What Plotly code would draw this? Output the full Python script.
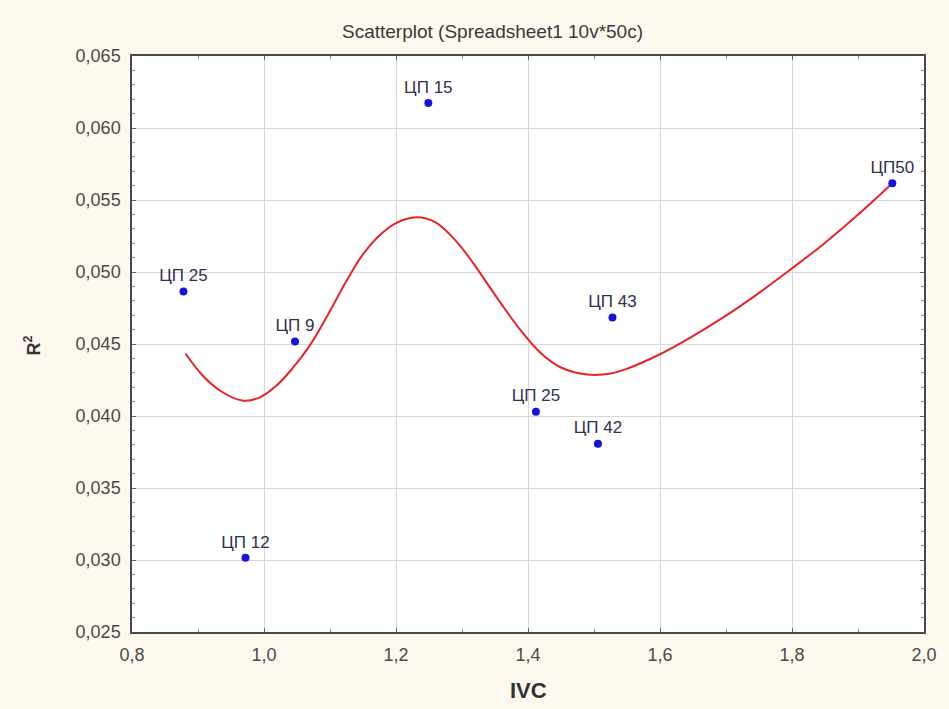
import plotly.graph_objects as go

# Scatter points (IVC, R^2) with labels
labels = ["ЦП 25", "ЦП 9", "ЦП 12", "ЦП 15", "ЦП 25", "ЦП 42", "ЦП 43", "ЦП50"]
ivc = [0.878, 1.047, 0.972, 1.249, 1.412, 1.506, 1.528, 1.952]
r2 = [0.04865, 0.04517, 0.03015, 0.06173, 0.0403, 0.03808, 0.04684, 0.05617]

# Fitted smooth curve
curve_x = [0.881, 0.907, 0.933, 0.967, 0.993, 1.019, 1.043, 1.068, 1.094, 1.124,
           1.148, 1.174, 1.200, 1.231, 1.260, 1.290, 1.314, 1.335, 1.359, 1.389,
           1.420, 1.450, 1.490, 1.525, 1.551, 1.596, 1.646, 1.697, 1.747, 1.797,
           1.848, 1.898, 1.952]
curve_y = [0.04434, 0.04281, 0.04177, 0.04107, 0.04128, 0.04211, 0.04330, 0.04480,
           0.04680, 0.04930, 0.05110, 0.05250, 0.05340, 0.05380, 0.05345, 0.05220,
           0.05081, 0.04942, 0.04782, 0.04594, 0.04434, 0.04337, 0.04288, 0.04295,
           0.04330, 0.04420, 0.04545, 0.04688, 0.04845, 0.05015, 0.05195, 0.05390,
           0.05617]

x_ticks = [0.8, 1.0, 1.2, 1.4, 1.6, 1.8, 2.0]
y_ticks = [0.025, 0.030, 0.035, 0.040, 0.045, 0.050, 0.055, 0.060, 0.065]

title_text = "Scatterplot (Spreadsheet1 10v*50c)"
x_title = "IVC"
y_title = "R<sup>2</sup>"

FONT = "Arial, Liberation Sans, sans-serif"

fig = go.Figure()
fig.add_trace(go.Scatter(
    x=curve_x, y=curve_y, mode="lines", line=dict(color="#e8232a", width=2, shape="spline"),
    hoverinfo="skip", showlegend=False))
fig.add_trace(go.Scatter(
    x=ivc, y=r2, mode="markers+text", text=labels, textposition="top center",
    textfont=dict(family=FONT, size=17, color="#2f2f4f"),
    marker=dict(color="#1414dc", size=8), showlegend=False))

W, H = 949, 709
L, R, T, B = 132, 21, 56, 77
pw, ph = W - L - R, H - T - B

axis_common = dict(
    showline=True, linecolor="#4a4a4a", linewidth=1.5, mirror="allticks",
    showgrid=True, gridcolor="#d8d8d8", gridwidth=1, zeroline=False,
    ticks="inside", ticklen=4, tickcolor="#666",
    tickfont=dict(family=FONT, size=18, color="#4a4a4a"),
)

fig.update_xaxes(range=[0.8, 2.0], tickvals=x_ticks, tickformat=".1f",
                 ticklabelstandoff=6,
                 minor=dict(dtick=0.1, ticks="inside", ticklen=3, tickcolor="#888", showgrid=False),
                 **axis_common)
fig.update_yaxes(range=[0.025, 0.065], tickvals=y_ticks, tickformat=".3f",
                 ticklabelstandoff=6,
                 minor=dict(dtick=0.001, ticks="inside", ticklen=3, tickcolor="#888", showgrid=False),
                 **axis_common)

fig.update_layout(
    width=W, height=H, separators=", ",
    margin=dict(l=L, r=R, t=T, b=B),
    paper_bgcolor="#fdf9ee", plot_bgcolor="#ffffff",
    annotations=[
        dict(text=title_text, xref="paper", yref="paper", x=(494 - L) / pw, y=(H - B - 32) / ph,
             showarrow=False, xanchor="center", yanchor="middle",
             font=dict(family=FONT, size=19, color="#3a3a3a")),
        dict(text="<b>" + x_title + "</b>", xref="paper", yref="paper", x=(530 - L) / pw,
             y=(H - B - 690) / ph, showarrow=False, xanchor="center", yanchor="middle",
             font=dict(family=FONT, size=22, color="#333")),
        dict(text="<b>" + y_title + "</b>", xref="paper", yref="paper", x=(32 - L) / pw,
             y=(H - B - 346) / ph, showarrow=False, xanchor="center", yanchor="middle",
             textangle=-90, font=dict(family=FONT, size=18, color="#333")),
    ],
)

fig.write_html("out.html", config={"displayModeBar": False},
               post_script="document.body.style.margin='0';document.body.style.overflow='hidden';")
